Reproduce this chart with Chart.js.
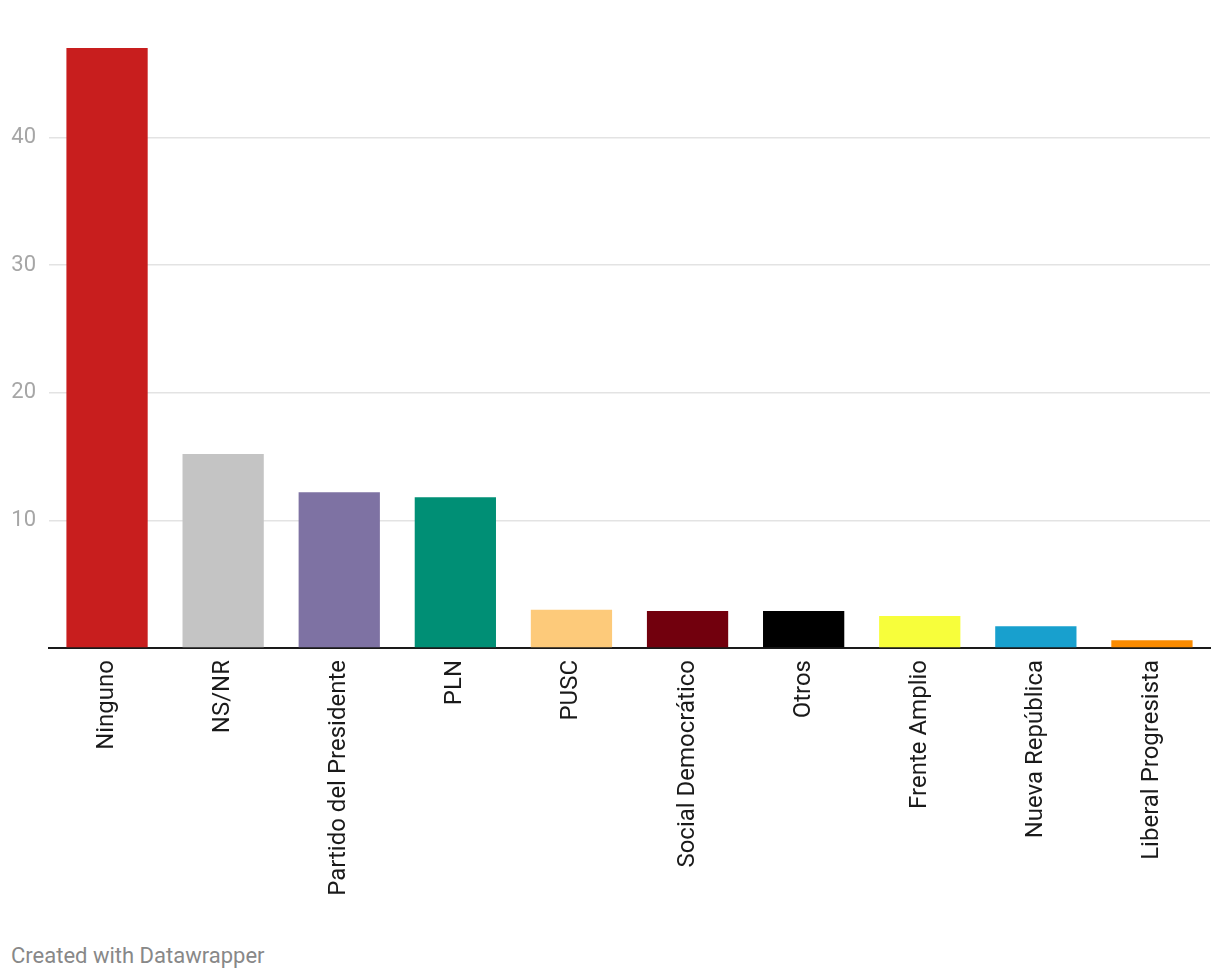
<!DOCTYPE html>
<html>
<head>
<meta charset="utf-8">
<script src="https://cdn.jsdelivr.net/npm/chart.js@4"></script>
<style>
  body { margin: 0; background: #fff; font-family: Roboto, sans-serif; }
  #wrap { position: relative; width: 1220px; height: 920px; }
  #footer { position: absolute; left: 11px; top: 943px; font-size: 22px; color: #888; font-family: Roboto, sans-serif; }
</style>
</head>
<body>
<div id="wrap"><canvas id="chart"></canvas></div>
<div id="footer">Created with Datawrapper</div>
<script>
const categories = [
  "Ninguno", "NS/NR", "Partido del Presidente", "PLN", "PUSC",
  "Social Democrático", "Otros", "Frente Amplio", "Nueva República", "Liberal Progresista"
];
const values = [47.0, 15.2, 12.2, 11.8, 3.0, 2.9, 2.9, 2.5, 1.7, 0.6];
const barColors = [
  "#c81e1e", "#c4c4c4", "#7e72a3", "#008f75", "#fdca7a",
  "#72000d", "#000000", "#f7fe3b", "#18a0ce", "#fb8b00"
];
const yTicks = [10, 20, 30, 40];

new Chart(document.getElementById("chart").getContext("2d"), {
  type: "bar",
  data: {
    labels: categories,
    datasets: [{
      data: values,
      backgroundColor: barColors,
      borderWidth: 0,
      barPercentage: 0.7,
      categoryPercentage: 1.0,
    }],
  },
  options: {
    responsive: true,
    maintainAspectRatio: false,
    animation: false,
    layout: { padding: { top: 48, right: 10, left: 0, bottom: 0 } },
    plugins: {
      legend: { display: false },
      tooltip: { enabled: false },
    },
    scales: {
      x: {
        afterFit: (scale) => { scale.height = 272; },
        grid: { display: false, drawTicks: false },
        border: { display: true, color: "#1a1a1a", width: 2 },
        ticks: {
          minRotation: 90,
          maxRotation: 90,
          padding: 12,
          color: "#1a1a1a",
          font: { family: "Roboto", size: 24 },
        },
      },
      y: {
        min: 0,
        max: 47,
        afterFit: (scale) => { scale.width = 49; },
        afterBuildTicks: (scale) => {
          scale.ticks = [0, ...yTicks].map((v) => ({ value: v }));
        },
        grid: { color: "#e3e3e3", lineWidth: 1.5, drawTicks: false },
        border: { display: false },
        ticks: {
          padding: 13,
          color: "#a6a6a6",
          font: { family: "Roboto", size: 22 },
          callback: (v) => (v === 0 ? "" : v),
        },
      },
    },
  },
});
</script>
</body>
</html>
